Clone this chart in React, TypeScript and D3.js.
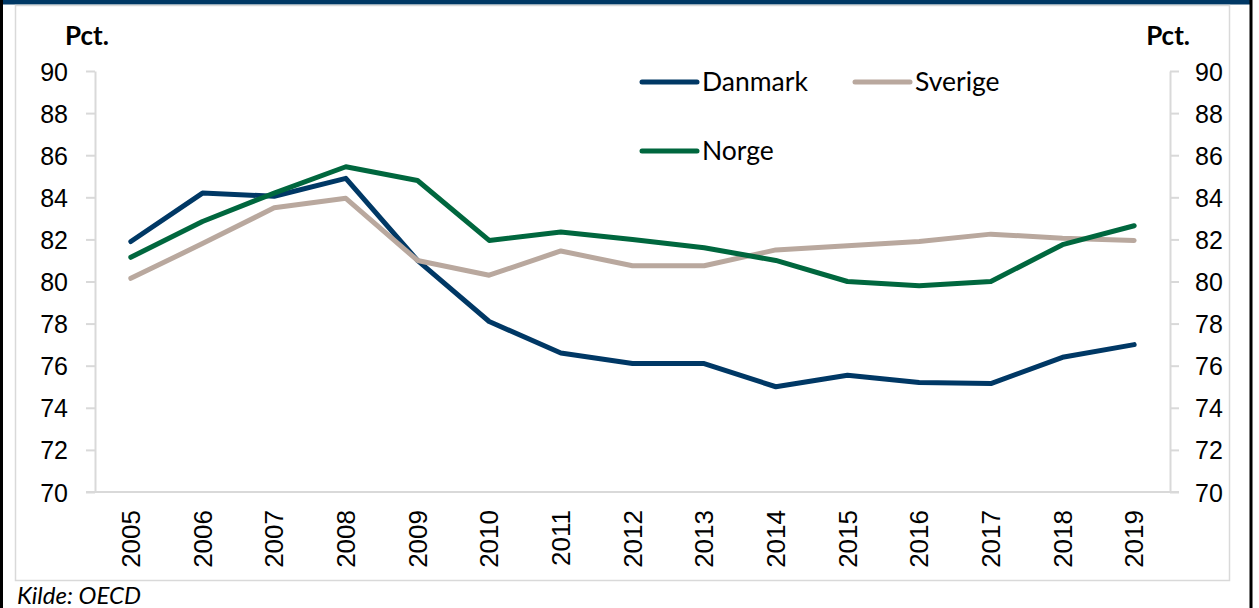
import * as React from 'react';
import * as d3 from 'd3';

const years = ['2005', '2006', '2007', '2008', '2009', '2010', '2011', '2012', '2013', '2014', '2015', '2016', '2017', '2018', '2019'];
const danmark = [81.9, 84.2, 84.05, 84.9, 81.0, 78.1, 76.6, 76.1, 76.1, 75.0, 75.55, 75.2, 75.15, 76.4, 77.0];
const sverige = [80.15, 81.8, 83.5, 83.95, 81.0, 80.3, 81.45, 80.75, 80.75, 81.5, 81.7, 81.9, 82.25, 82.05, 81.95];
const norge = [81.15, 82.85, 84.2, 85.45, 84.8, 81.95, 82.35, 82.0, 81.6, 81.0, 80.0, 79.8, 80.0, 81.75, 82.65];
const yTicks = [70, 72, 74, 76, 78, 80, 82, 84, 86, 88, 90];

const series = [
  { name: 'Danmark', values: danmark, color: '#003865' },
  { name: 'Sverige', values: sverige, color: '#b9a89e' },
  { name: 'Norge', values: norge, color: '#00673e' },
];

const W = 1259;
const H = 608;
const plot = { left: 95, right: 1170, top: 71, bottom: 492 };
const lato = 'Lato, "Noto Sans", sans-serif';
const arial = '"Liberation Sans", Arial, sans-serif';

export default function App() {
  const ref = React.useRef<SVGSVGElement>(null);

  React.useEffect(() => {
    const svg = d3.select(ref.current);
    svg.selectAll('*').remove();

    const x = d3.scaleBand().domain(years).range([plot.left, plot.right]).padding(0);
    const y = d3.scaleLinear().domain([70, 90]).range([plot.bottom, plot.top]);

    // frame
    svg.append('rect').attr('x', 0).attr('y', 0).attr('width', 1252).attr('height', 4.5).attr('fill', '#003865');
    svg.append('rect').attr('x', 0).attr('y', 0).attr('width', 3).attr('height', H).attr('fill', '#000');
    svg.append('rect').attr('x', 1249.5).attr('y', 0).attr('width', 3).attr('height', H).attr('fill', '#000');
    svg.append('rect').attr('x', 15.5).attr('y', 5.5).attr('width', 1214).attr('height', 575)
      .attr('fill', 'none').attr('stroke', '#d9d9d9').attr('stroke-width', 1.5);

    const styleAxis = (g: any) => {
      g.select('.domain').attr('stroke', '#d9d9d9').attr('stroke-width', 2);
      g.selectAll('.tick line').attr('stroke', '#d9d9d9').attr('stroke-width', 2);
      g.selectAll('.tick text').attr('fill', '#000').style('font-family', arial).style('font-size', '25px');
    };

    const left = svg.append('g').attr('transform', `translate(${plot.left},0)`)
      .call(d3.axisLeft(y).tickValues(yTicks).tickSize(9).tickSizeOuter(0).tickPadding(18));
    styleAxis(left);
    left.selectAll('.tick text').attr('dy', '0.36em');

    const right = svg.append('g').attr('transform', `translate(${plot.right},0)`)
      .call(d3.axisRight(y).tickValues(yTicks).tickSize(9).tickSizeOuter(0).tickPadding(16));
    styleAxis(right);
    right.selectAll('.tick text').attr('dy', '0.36em');

    const bottom = svg.append('g').attr('transform', `translate(0,${plot.bottom})`)
      .call(d3.axisBottom(x).tickSize(0).tickSizeOuter(0));
    styleAxis(bottom);
    bottom.select('.domain').attr('d', `M${plot.left - 9},0H${plot.right + 9}`);
    bottom.selectAll('.tick text')
      .style('font-size', '26px')
      .attr('transform', 'rotate(-90)')
      .attr('text-anchor', 'end')
      .attr('x', -18)
      .attr('y', 0)
      .attr('dy', '0.35em');

    // Pct. labels
    svg.append('text').attr('x', 65).attr('y', 45).text('Pct.')
      .style('font-family', lato).style('font-weight', 'bold').style('font-size', '26px');
    svg.append('text').attr('x', 1190).attr('y', 45).attr('text-anchor', 'end').text('Pct.')
      .style('font-family', lato).style('font-weight', 'bold').style('font-size', '26px');

    const line = d3.line<number>()
      .x((_, i) => (x(years[i]) as number) + x.bandwidth() / 2)
      .y(d => y(d));

    svg.append('g').selectAll('path')
      .data(series)
      .enter().append('path')
      .attr('d', d => line(d.values))
      .attr('fill', 'none')
      .attr('stroke', d => d.color)
      .attr('stroke-width', 5)
      .attr('stroke-linecap', 'round')
      .attr('stroke-linejoin', 'round');

    // legend
    const legendPos = [
      { x: 642, y: 82 },
      { x: 855, y: 82 },
      { x: 642, y: 151 },
    ];
    const lg = svg.append('g').selectAll('g')
      .data(series)
      .enter().append('g')
      .attr('transform', (_, i) => `translate(${legendPos[i].x},${legendPos[i].y})`);
    lg.append('line').attr('x1', 0).attr('x2', 55).attr('y1', 0).attr('y2', 0)
      .attr('stroke', d => d.color).attr('stroke-width', 5).attr('stroke-linecap', 'round');
    lg.append('text').attr('x', 60).attr('y', 0).attr('dy', '0.35em').text(d => d.name)
      .style('font-family', lato).style('font-size', '26.5px');

    svg.append('text').attr('x', 17).attr('y', 604).text('Kilde: OECD')
      .style('font-family', lato).style('font-style', 'italic').style('font-size', '24px');
  }, []);

  return (
    <svg ref={ref} width={W} height={H} style={{ position: 'absolute', left: 0, top: 0, background: '#fff' }}></svg>
  );
}
